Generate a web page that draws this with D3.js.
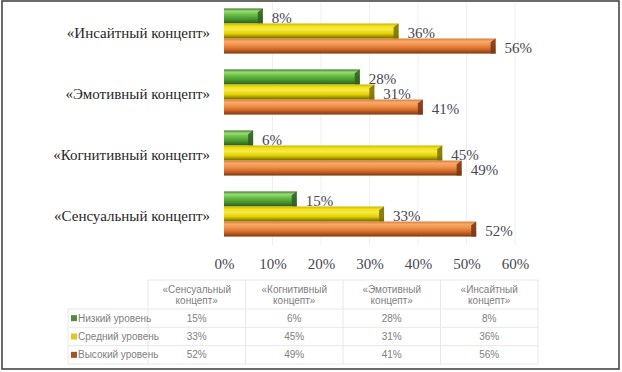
<!DOCTYPE html>
<html>
<head>
<meta charset="utf-8">
<script src="https://cdn.jsdelivr.net/npm/d3@7"></script>
<style>
  html, body { margin: 0; padding: 0; background: #fff; }
  svg { display: block; }
</style>
</head>
<body>
<div id="chart"></div>
<script>
const categories = ['«Сенсуальный концепт»', '«Когнитивный концепт»', '«Эмотивный концепт»', '«Инсайтный концепт»'];
const seriesNames = ['Низкий уровень', 'Средний уровень', 'Высокий уровень'];
const lowValues = [15, 6, 28, 8];
const midValues = [33, 45, 31, 36];
const highValues = [52, 49, 41, 56];
const tickValues = [0, 10, 20, 30, 40, 50, 60];

const width = 622;
const height = 372;

const seriesValues = [lowValues, midValues, highValues];
const palette = [
  { id: 'gLow', stops: ['#3d7a2a', '#9bdc78', '#6cc046', '#4c9a30', '#2b5e1c'], end: '#2f5f20', key: '#4f8f3b' },
  { id: 'gMid', stops: ['#c9b800', '#f2e21a', '#f7ea45', '#e0cf00', '#6f6500'], end: '#7a6e00', key: '#e2c81a' },
  { id: 'gHigh', stops: ['#d97a35', '#f7aa6a', '#f29550', '#d66e2a', '#7d3812'], end: '#7a3512', key: '#a1542a' }
];

const svg = d3.select('#chart')
  .append('svg')
  .attr('width', width)
  .attr('height', height);

svg.append('rect')
  .attr('width', width)
  .attr('height', height)
  .attr('fill', '#fff');

const defs = svg.append('defs');
palette.forEach((p) => {
  const gradient = defs.append('linearGradient')
    .attr('id', p.id)
    .attr('x1', '0%').attr('x2', '0%')
    .attr('y1', '0%').attr('y2', '100%');
  const offsets = ['0%', '18%', '40%', '68%', '100%'];
  p.stops.forEach((c, i) => {
    gradient.append('stop').attr('offset', offsets[i]).attr('stop-color', c);
  });
});

// scales
const x = d3.scaleLinear().domain([0, 60]).range([224, 515]);
const y = d3.scaleBand()
  .domain(categories.slice().reverse())
  .range([0.5, 244.5])
  .paddingInner(0.26)
  .paddingOuter(0.13);
const ySub = d3.scaleBand()
  .domain(seriesNames)
  .range([0, y.bandwidth()]);

// gridlines
svg.append('g')
  .selectAll('line')
  .data(tickValues.slice(1))
  .enter()
  .append('line')
  .attr('x1', (d) => x(d))
  .attr('x2', (d) => x(d))
  .attr('y1', 3)
  .attr('y2', 245)
  .attr('stroke', '#efefef')
  .attr('stroke-width', 1);

// bars
const bars = [];
categories.forEach((cat, ci) => {
  seriesNames.forEach((s, si) => {
    bars.push({ cat, series: s, si, value: seriesValues[si][ci] });
  });
});

const barItem = svg.append('g')
  .selectAll('g.bar')
  .data(bars)
  .enter()
  .append('g')
  .attr('class', 'bar')
  .attr('transform', (d) => `translate(0,${y(d.cat) + ySub(d.series)})`);

const bh = ySub.bandwidth();

barItem.append('rect')
  .attr('x', x(0))
  .attr('y', 0)
  .attr('width', (d) => x(d.value) - x(0))
  .attr('height', bh)
  .attr('fill', (d) => `url(#${palette[d.si].id})`);

// 3d end cap
barItem.append('path')
  .attr('d', (d) => {
    const xe = x(d.value);
    return `M${xe - 5},${bh * 0.25} L${xe},0 L${xe},${bh} L${xe - 5},${bh} Z`;
  })
  .attr('fill', (d) => palette[d.si].end)
  .attr('opacity', 0.85);

// value labels
barItem.append('text')
  .attr('x', (d) => x(d.value) + 9)
  .attr('y', bh / 2 + 2)
  .attr('dy', '0.35em')
  .attr('font-family', '"Liberation Serif", "Times New Roman", serif')
  .attr('font-size', 15)
  .attr('fill', '#474752')
  .text((d) => `${d.value}%`);

// category labels
svg.append('g')
  .selectAll('text')
  .data(categories)
  .enter()
  .append('text')
  .attr('x', 210)
  .attr('y', (d) => y(d) + y.bandwidth() / 2 + 2)
  .attr('dy', '0.35em')
  .attr('text-anchor', 'end')
  .attr('font-family', '"Liberation Serif", "Times New Roman", serif')
  .attr('font-size', 15)
  .attr('fill', '#262626')
  .text((d) => d);

// x axis labels
const xAxis = d3.axisBottom(x)
  .tickValues(tickValues)
  .tickSize(0)
  .tickPadding(0)
  .tickFormat((d) => `${d}%`);

const axisG = svg.append('g')
  .attr('transform', 'translate(0,258)')
  .call(xAxis);
axisG.select('.domain').remove();
axisG.selectAll('text')
  .attr('font-family', '"Liberation Serif", "Times New Roman", serif')
  .attr('font-size', 15)
  .attr('fill', '#474752');

// data table
const col = d3.scaleBand().domain(categories).range([148, 538]);
const rowY = d3.scaleBand().domain(seriesNames).range([309, 364]);
const tableG = svg.append('g')
  .attr('font-family', '"Liberation Sans", Arial, sans-serif')
  .attr('font-size', 10)
  .attr('fill', '#808080');

// table grid
const gridColor = '#e8e8e8';
tableG.selectAll('line.v')
  .data(col.domain().concat(['end']))
  .enter()
  .append('line')
  .attr('x1', (d) => (d === 'end' ? col.range()[1] : col(d)))
  .attr('x2', (d) => (d === 'end' ? col.range()[1] : col(d)))
  .attr('y1', 280)
  .attr('y2', 364)
  .attr('stroke', gridColor);
tableG.selectAll('line.h')
  .data(seriesNames.concat(['end']))
  .enter()
  .append('line')
  .attr('x1', 68)
  .attr('x2', col.range()[1])
  .attr('y1', (d) => (d === 'end' ? 364 : rowY(d)))
  .attr('y2', (d) => (d === 'end' ? 364 : rowY(d)))
  .attr('stroke', gridColor);
tableG.append('line')
  .attr('x1', col.range()[0]).attr('x2', col.range()[1])
  .attr('y1', 280).attr('y2', 280)
  .attr('stroke', gridColor);
tableG.append('line')
  .attr('x1', 68).attr('x2', 68)
  .attr('y1', 309).attr('y2', 364)
  .attr('stroke', gridColor);

// header
const head = tableG.selectAll('text.head')
  .data(categories)
  .enter()
  .append('text')
  .attr('text-anchor', 'middle');
head.append('tspan')
  .attr('x', (d) => col(d) + col.bandwidth() / 2)
  .attr('y', 293)
  .text((d) => d.split(' ')[0]);
head.append('tspan')
  .attr('x', (d) => col(d) + col.bandwidth() / 2)
  .attr('y', 304)
  .text((d) => d.split(' ')[1]);

// legend rows
const rows = tableG.selectAll('g.row')
  .data(seriesNames)
  .enter()
  .append('g')
  .attr('transform', (d) => `translate(0,${rowY(d) + rowY.bandwidth() / 2})`);
rows.append('rect')
  .attr('x', 71)
  .attr('y', -3)
  .attr('width', 6)
  .attr('height', 6)
  .attr('fill', (d, i) => palette[i].key);
rows.append('text')
  .attr('x', 78)
  .attr('dy', '0.35em')
  .text((d) => d);
rows.each(function (s, si) {
  d3.select(this).selectAll('text.val')
    .data(seriesValues[si])
    .enter()
    .append('text')
    .attr('text-anchor', 'middle')
    .attr('x', (d, ci) => col(categories[ci]) + col.bandwidth() / 2)
    .attr('dy', '0.35em')
    .text((d) => `${d}%`);
});

// frame
svg.append('rect')
  .attr('x', 2)
  .attr('y', 1)
  .attr('width', 617)
  .attr('height', 368)
  .attr('fill', 'none')
  .attr('stroke', '#3a3a3a')
  .attr('stroke-width', 1.5);
</script>
</body>
</html>
